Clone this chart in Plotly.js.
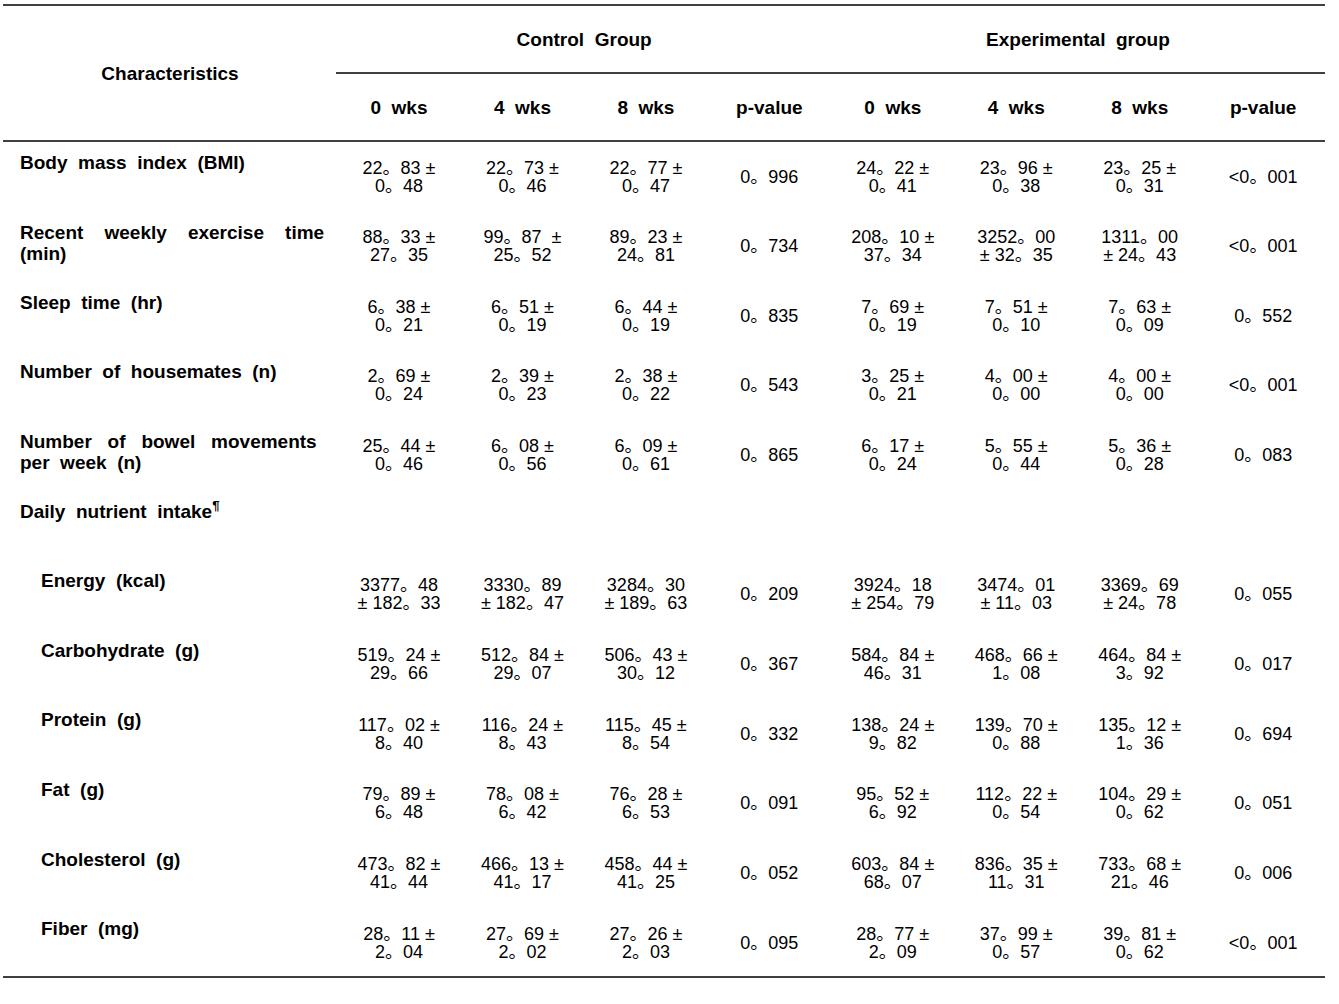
<!DOCTYPE html>
<html>
<head>
<meta charset="utf-8">
<script src="https://cdn.plot.ly/plotly-3.0.1.min.js"></script>
<style>html,body{margin:0;padding:0;background:#fff;}</style>
</head>
<body>
<div id="chart" style="width:1339px;height:1004px;"></div>
<script>
// ---- data ----
const groupHeaders = ["Control Group", "Experimental group"];
const timeHeaders = ["0 wks", "4 wks", "8 wks", "p-value"];
const stubHeader = "Characteristics";

const rowLabels = [
  "Body mass index (BMI)",
  "Recent weekly exercise time\n(min)",
  "Sleep time (hr)",
  "Number of housemates (n)",
  "Number of bowel movements\nper week (n)",
  "Daily nutrient intake<sup>¶</sup>",
  "Energy (kcal)",
  "Carbohydrate (g)",
  "Protein (g)",
  "Fat (g)",
  "Cholesterol (g)",
  "Fiber (mg)"
];
const rowIndent = [0, 0, 0, 0, 0, 0, 1, 1, 1, 1, 1, 1];

const ctrl0 = ["22。83 ±\n0。48", "88。33 ±\n27。35", "6。38 ±\n0。21", "2。69 ±\n0。24", "25。44 ±\n0。46", "", "3377。48\n± 182。33", "519。24 ±\n29。66", "117。02 ±\n8。40", "79。89 ±\n6。48", "473。82 ±\n41。44", "28。11 ±\n2。04"];
const ctrl4 = ["22。73 ±\n0。46", "99。87  ±\n25。52", "6。51 ±\n0。19", "2。39 ±\n0。23", "6。08 ±\n0。56", "", "3330。89\n± 182。47", "512。84 ±\n29。07", "116。24 ±\n8。43", "78。08 ±\n6。42", "466。13 ±\n41。17", "27。69 ±\n2。02"];
const ctrl8 = ["22。77 ±\n0。47", "89。23 ±\n24。81", "6。44 ±\n0。19", "2。38 ±\n0。22", "6。09 ±\n0。61", "", "3284。30\n± 189。63", "506。43 ±\n30。12", "115。45 ±\n8。54", "76。28 ±\n6。53", "458。44 ±\n41。25", "27。26 ±\n2。03"];
const ctrlP = ["0。996", "0。734", "0。835", "0。543", "0。865", "", "0。209", "0。367", "0。332", "0。091", "0。052", "0。095"];
const exp0 = ["24。22 ±\n0。41", "208。10 ±\n37。34", "7。69 ±\n0。19", "3。25 ±\n0。21", "6。17 ±\n0。24", "", "3924。18\n± 254。79", "584。84 ±\n46。31", "138。24 ±\n9。82", "95。52 ±\n6。92", "603。84 ±\n68。07", "28。77 ±\n2。09"];
const exp4 = ["23。96 ±\n0。38", "3252。00\n± 32。35", "7。51 ±\n0。10", "4。00 ±\n0。00", "5。55 ±\n0。44", "", "3474。01\n± 11。03", "468。66 ±\n1。08", "139。70 ±\n0。88", "112。22 ±\n0。54", "836。35 ±\n11。31", "37。99 ±\n0。57"];
const exp8 = ["23。25 ±\n0。31", "1311。00\n± 24。43", "7。63 ±\n0。09", "4。00 ±\n0。00", "5。36 ±\n0。28", "", "3369。69\n± 24。78", "464。84 ±\n3。92", "135。12 ±\n1。36", "104。29 ±\n0。62", "733。68 ±\n21。46", "39。81 ±\n0。62"];
const expP = ["&lt;0。001", "&lt;0。001", "0。552", "&lt;0。001", "0。083", "", "0。055", "0。017", "0。694", "0。051", "0。006", "&lt;0。001"];

// ---- layout constants ----
const W = 1339, H = 1004;
const COL0 = 399, COLSTEP = 123.45;
const ROW0 = 178, ROWSTEP = 69.65;
const LABEL_X = [20, 41];
const LBL_FONT = {family: "Liberation Sans, Arial, Noto Sans CJK KR", size: 19, color: "#000", weight: "bold"};
const VAL_FONT = {family: "Liberation Sans, Arial, Noto Sans CJK KR", size: 18, color: "#000"};

function sp(s) { return s.replace(/ /g, "\u00a0\u00a0"); }
function vsp(s) { return s.replace(/  /g, "\u00a0\u00a0"); }

const columns = [ctrl0, ctrl4, ctrl8, ctrlP, exp0, exp4, exp8, expP];
const traces = [];

function textTrace(xs, ys, texts, font, pos) {
  return {type: "scatter", mode: "text", x: xs, y: ys, text: texts,
          textposition: pos || "middle center", textfont: font,
          hoverinfo: "skip", showlegend: false, cliponaxis: false};
}

// value cells: two lines each
columns.forEach((col, ci) => {
  const xs = [], ys = [], ts = [];
  col.forEach((cell, ri) => {
    if (!cell) return;
    const lines = cell.split("\n");
    const yc = ROW0 + ri * ROWSTEP;
    lines.forEach((ln, k) => {
      xs.push(COL0 + ci * COLSTEP);
      ys.push(yc + (k - (lines.length - 1) / 2) * 18);
      ts.push(vsp(ln));
    });
  });
  traces.push(textTrace(xs, ys, ts, VAL_FONT));
});

// row labels (top aligned, left aligned; two long lines are justified)
const JUSTIFY = {"Recent weekly exercise time": 4, "Number of bowel movements": 3};
{
  const xs = [], ys = [], ts = [];
  rowLabels.forEach((lab, ri) => {
    const lines = lab.split("\n");
    lines.forEach((ln, k) => {
      let t;
      if (JUSTIFY[ln]) t = ln.replace(/ /g, "\u00a0".repeat(JUSTIFY[ln]));
      else t = sp(ln);
      xs.push(LABEL_X[rowIndent[ri]]);
      ys.push(ROW0 + ri * ROWSTEP - 13.5 + k * 21);
      ts.push(t);
    });
  });
  traces.push(textTrace(xs, ys, ts, LBL_FONT, "middle right"));
}

// headers
traces.push(textTrace([170], [75], [sp(stubHeader)], LBL_FONT));
traces.push(textTrace(
  groupHeaders.map((g, i) => COL0 + (i * 4 + 1.5) * COLSTEP),
  groupHeaders.map(() => 41),
  groupHeaders.map(sp), LBL_FONT));
{
  const xs = [], ys = [], ts = [];
  for (let g = 0; g < 2; g++) {
    timeHeaders.forEach((h, i) => {
      xs.push(COL0 + (g * 4 + i) * COLSTEP);
      ys.push(109);
      ts.push(sp(h));
    });
  }
  traces.push(textTrace(xs, ys, ts, LBL_FONT));
}

const lineStyle = {color: "#000", width: 1.3};
const shapes = [
  {type: "line", xref: "x", yref: "y", x0: 3, x1: 1325, y0: 5, y1: 5, line: lineStyle},
  {type: "line", xref: "x", yref: "y", x0: 336, x1: 1325, y0: 73, y1: 73, line: lineStyle},
  {type: "line", xref: "x", yref: "y", x0: 3, x1: 1325, y0: 141, y1: 141, line: lineStyle},
  {type: "line", xref: "x", yref: "y", x0: 3, x1: 1325, y0: 977, y1: 977, line: lineStyle}
];

const layout = {
  width: W, height: H,
  margin: {l: 0, r: 0, t: 0, b: 0, pad: 0},
  paper_bgcolor: "#fff", plot_bgcolor: "#fff",
  xaxis: {range: [0, W], visible: false, fixedrange: true},
  yaxis: {range: [H, 0], visible: false, fixedrange: true},
  shapes: shapes,
  showlegend: false
};

Plotly.newPlot("chart", traces, layout, {staticPlot: true, displayModeBar: false});
</script>
</body>
</html>
